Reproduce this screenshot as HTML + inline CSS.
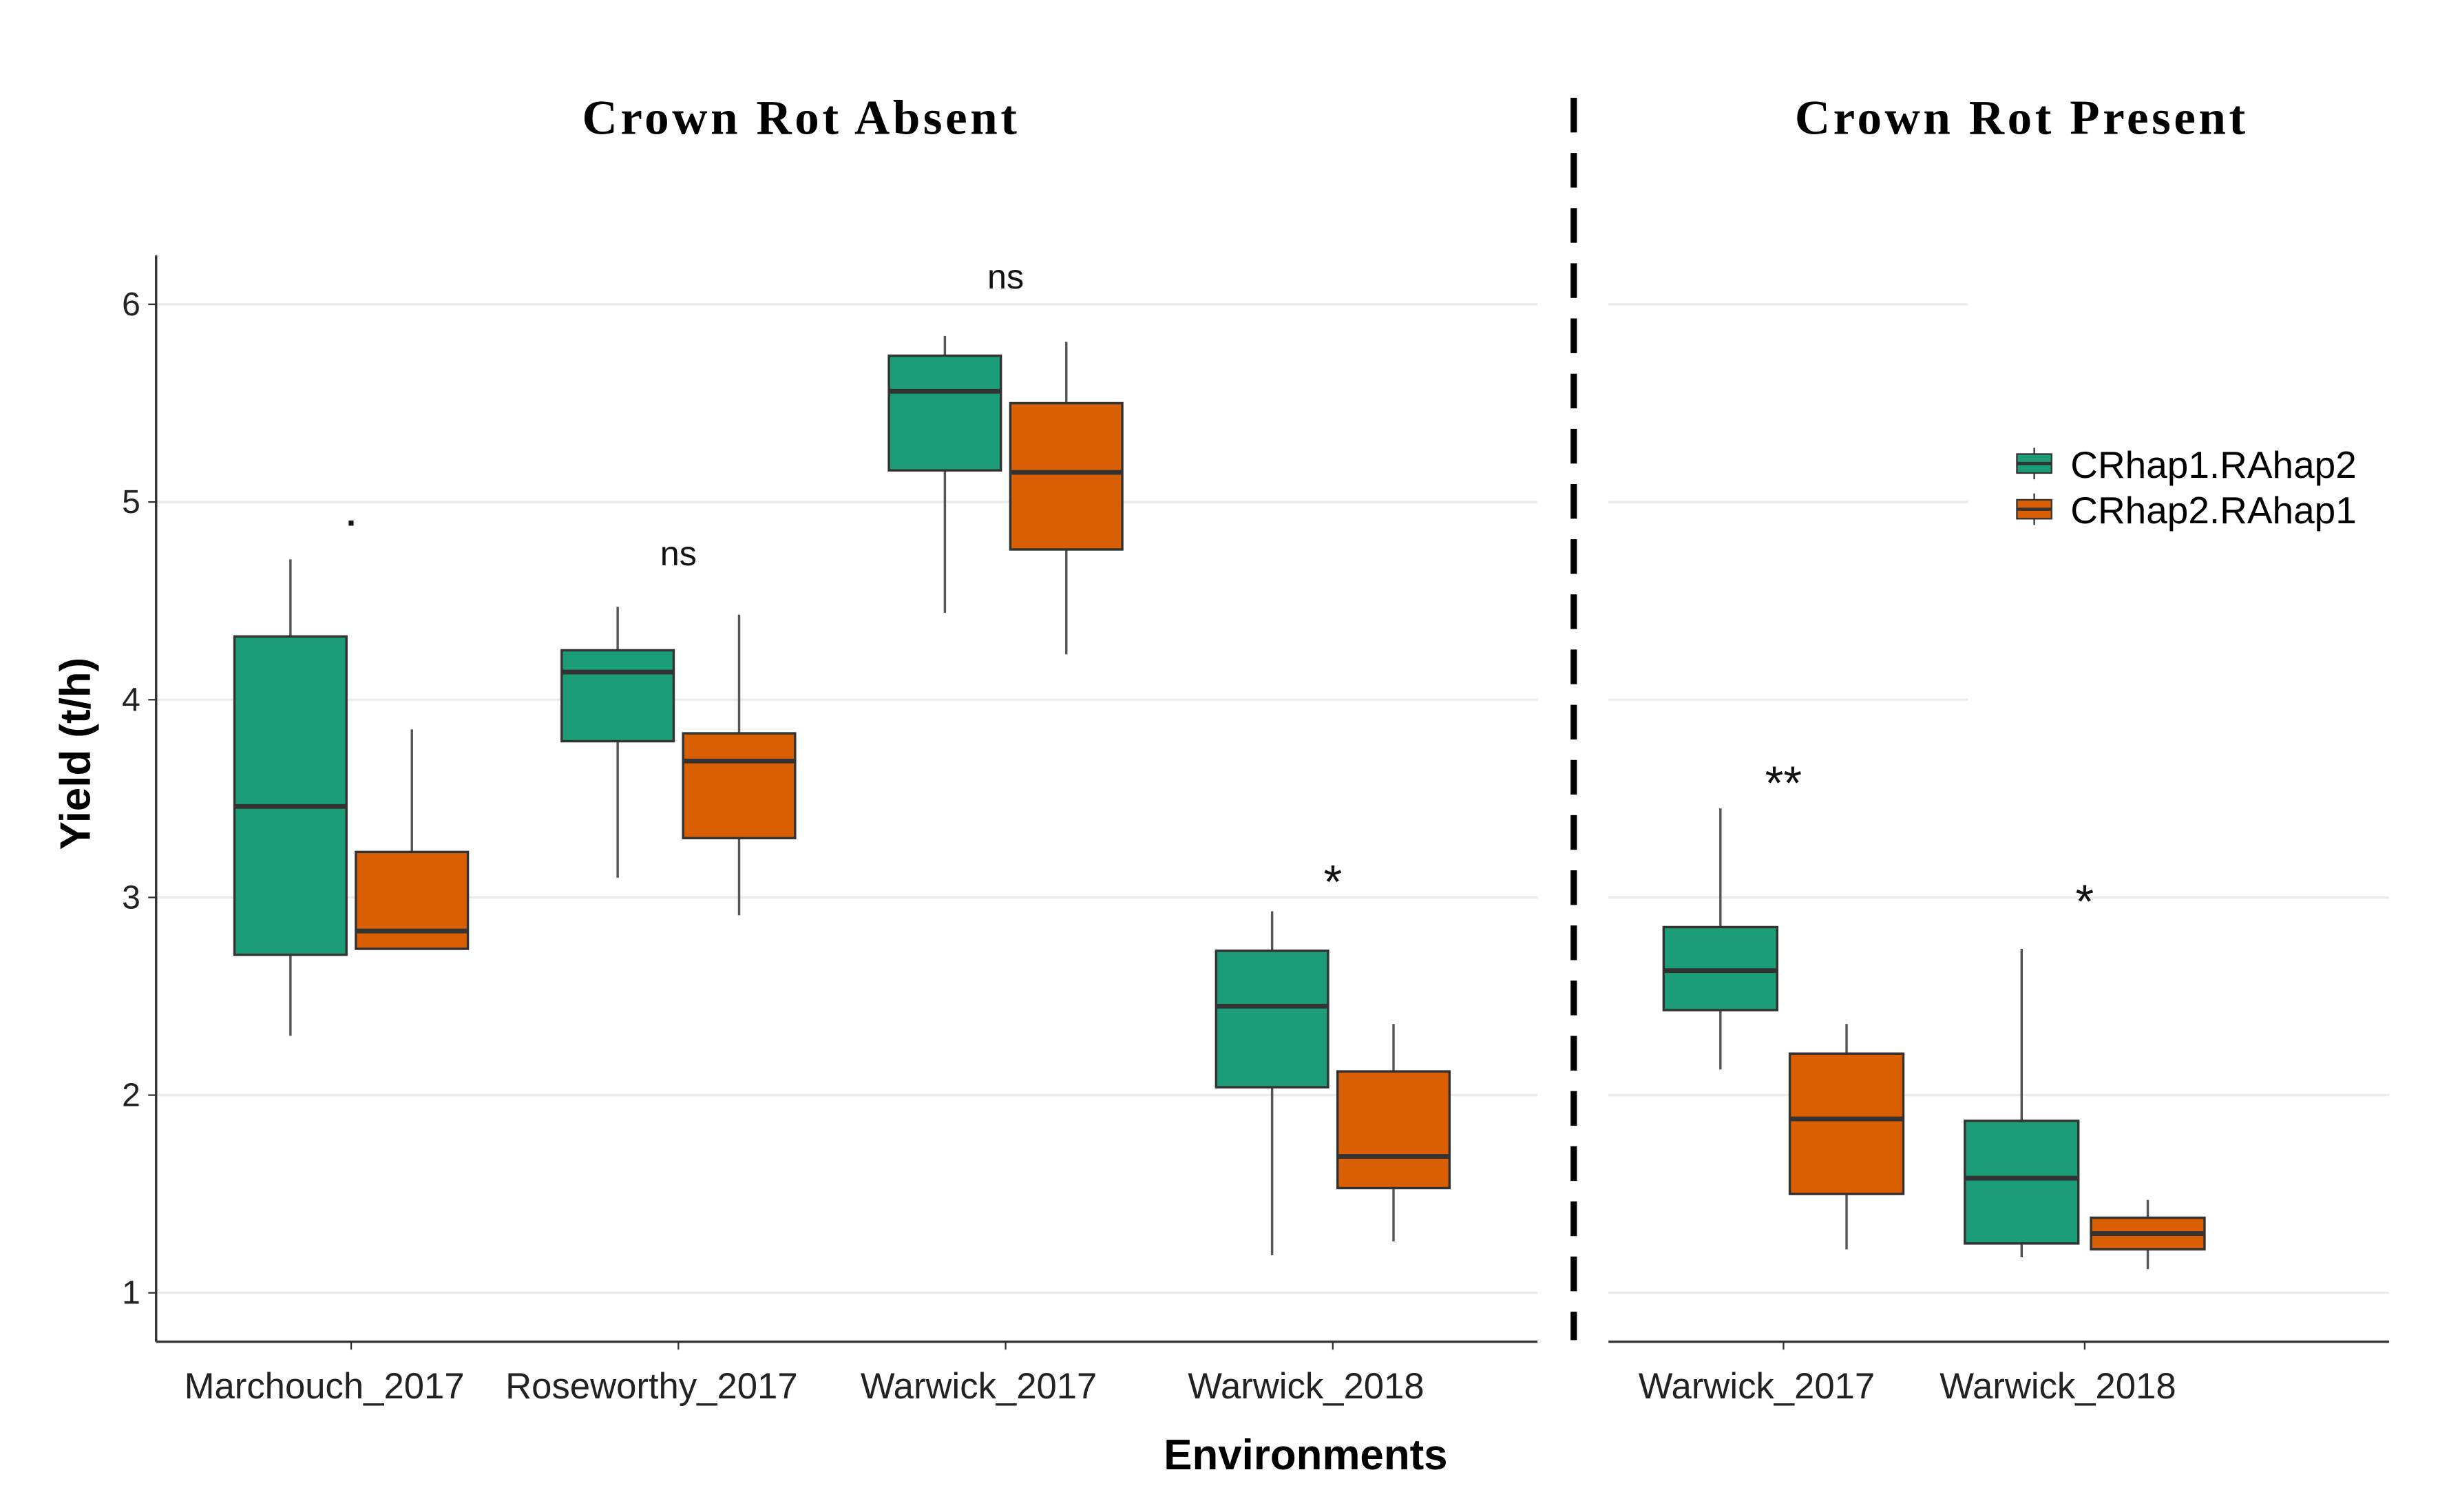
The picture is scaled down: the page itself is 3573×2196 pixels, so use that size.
<!DOCTYPE html>
<html><head><meta charset="utf-8"><style>html,body{margin:0;padding:0;background:#fff}svg{display:block}</style></head>
<body>
<svg id="chart" width="3573" height="2196" viewBox="0 0 1560 959" preserveAspectRatio="none" xmlns="http://www.w3.org/2000/svg">
<rect width="1560" height="959" fill="#fff"/>
<g id="grid"></g>
<g id="boxes"></g>
<g id="axes" font-family="Liberation Sans, sans-serif"></g>
<line x1="998" y1="62" x2="998" y2="850" stroke="#000" stroke-width="4" stroke-dasharray="22,13"/>
<text x="508" y="85" text-anchor="middle" font-family="Liberation Serif, serif" font-weight="bold" font-size="31" letter-spacing="2">Crown Rot Absent</text>
<text x="1282" y="85" text-anchor="middle" font-family="Liberation Serif, serif" font-weight="bold" font-size="31" letter-spacing="2">Crown Rot Present</text>
<text transform="translate(57,478) rotate(-90)" text-anchor="middle" font-family="Liberation Sans, sans-serif" font-weight="bold" font-size="27">Yield (t/h)</text>
<text x="828" y="932" text-anchor="middle" font-family="Liberation Sans, sans-serif" font-weight="bold" font-size="27">Environments</text>
<g font-family="Liberation Sans, sans-serif" font-size="24">
 <g>
  <line x1="1290" y1="284" x2="1290" y2="304" stroke="#333"/>
  <rect x="1279" y="288" width="22" height="12" fill="#1b9e77" stroke="#333"/>
  <line x1="1279" y1="294" x2="1301" y2="294" stroke="#333" stroke-width="2"/>
  <text x="1313" y="303">CRhap1.RAhap2</text>
 </g>
 <g>
  <line x1="1290" y1="313" x2="1290" y2="333" stroke="#333"/>
  <rect x="1279" y="317" width="22" height="12" fill="#d95f02" stroke="#333"/>
  <line x1="1279" y1="323" x2="1301" y2="323" stroke="#333" stroke-width="2"/>
  <text x="1313" y="332">CRhap2.RAhap1</text>
 </g>
</g>
</svg>
<script>
const categories = ["Marchouch_2017","Roseworthy_2017","Warwick_2017","Warwick_2018","Warwick_2017","Warwick_2018"];
const panels = ["absent","absent","absent","absent","present","present"];
const yTicks = [1,2,3,4,5,6];
// [min, q1, median, q3, max]
const greenStats = [[2.30,2.71,3.46,4.32,4.71],[3.10,3.79,4.14,4.25,4.47],[4.44,5.16,5.56,5.74,5.84],[1.19,2.04,2.45,2.73,2.93],[2.13,2.43,2.63,2.85,3.45],[1.18,1.25,1.58,1.87,2.74]];
const orangeStats = [[2.74,2.74,2.83,3.23,3.85],[2.91,3.30,3.69,3.83,4.43],[4.23,4.76,5.15,5.50,5.81],[1.26,1.53,1.69,2.12,2.36],[1.22,1.50,1.88,2.21,2.36],[1.12,1.22,1.30,1.38,1.47]];
const sigLabels = [".","ns","ns","*","**","*"];
const sigValues = [4.88,4.68,6.08,3.14,3.64,3.04];

const NS="http://www.w3.org/2000/svg";
const y = v => 820 - (v-1)*125.4;
const slotX = i => i<4 ? 222.7 + i*207.5 : 1131 + (i-4)*191;
function mk(tag, attrs, parent){const e=document.createElementNS(NS,tag);for(const k in attrs)e.setAttribute(k,attrs[k]);parent.appendChild(e);return e;}
const grid=document.getElementById('grid'), boxes=document.getElementById('boxes'), axes=document.getElementById('axes');

yTicks.forEach(t=>{
  const g1=mk('line',{x1:99,x2:975,y1:y(t),y2:y(t),stroke:'#ebebeb','stroke-width':1.5},grid);
  
  
  const g2=mk('line',{x1:1020,x2:t>=4?1248:1515,y1:y(t),y2:y(t),stroke:'#ebebeb','stroke-width':1.5},grid);
  
  
  const tk=mk('line',{x1:94,x2:99,y1:y(t),y2:y(t),stroke:'#333'},axes);
  
  
  const tl=mk('text',{x:89,y:y(t)+7,'text-anchor':'end','font-size':21,fill:'#222'},axes);
  tl.textContent=t;
  
  
});
let a=mk('line',{x1:99,x2:99,y1:162,y2:851,stroke:'#333','stroke-width':1.5},axes);


a=mk('line',{x1:99,x2:975,y1:851,y2:851,stroke:'#333','stroke-width':1.5},axes);


a=mk('line',{x1:1020,x2:1515,y1:851,y2:851,stroke:'#333','stroke-width':1.5},axes);



function drawBox(s, cx, w, color, name){
  const g=mk('g',{},boxes);
  
  
  mk('line',{x1:cx,x2:cx,y1:y(s[4]),y2:y(s[3]),stroke:'#555','stroke-width':1.5},g);
  mk('line',{x1:cx,x2:cx,y1:y(s[1]),y2:y(s[0]),stroke:'#555','stroke-width':1.5},g);
  mk('rect',{x:cx-w/2,y:y(s[3]),width:w,height:y(s[1])-y(s[3]),fill:color,stroke:'#333','stroke-width':1.5},g);
  mk('line',{x1:cx-w/2,x2:cx+w/2,y1:y(s[2]),y2:y(s[2]),stroke:'#333','stroke-width':3},g);
}
categories.forEach((c,i)=>{
  const cx=slotX(i), off=i<4?38.5:40, w=i<4?71:72;
  drawBox(greenStats[i], cx-off, w, '#1b9e77', 'box-crhap1-'+c.toLowerCase()+'-'+panels[i]);
  drawBox(orangeStats[i], cx+off, w, '#d95f02', 'box-crhap2-'+c.toLowerCase()+'-'+panels[i]);
  const tk=mk('line',{x1:cx,x2:cx,y1:851,y2:856,stroke:'#333'},axes);
  
  
  const tl=mk('text',{x:cx-17,y:887,'text-anchor':'middle','font-size':23,fill:'#222'},axes);
  tl.textContent=c;
  
  
  const sl=mk('text',{x:cx,y:y(sigValues[i])+(sigLabels[i].indexOf('*')>=0?18:0),'text-anchor':'middle','font-size':sigLabels[i].indexOf('*')>=0?30:22,'font-weight':sigLabels[i]==='.'?'bold':'normal',fill:'#111'},axes);
  sl.textContent=sigLabels[i];
  
  
});
</script>
</body></html>
